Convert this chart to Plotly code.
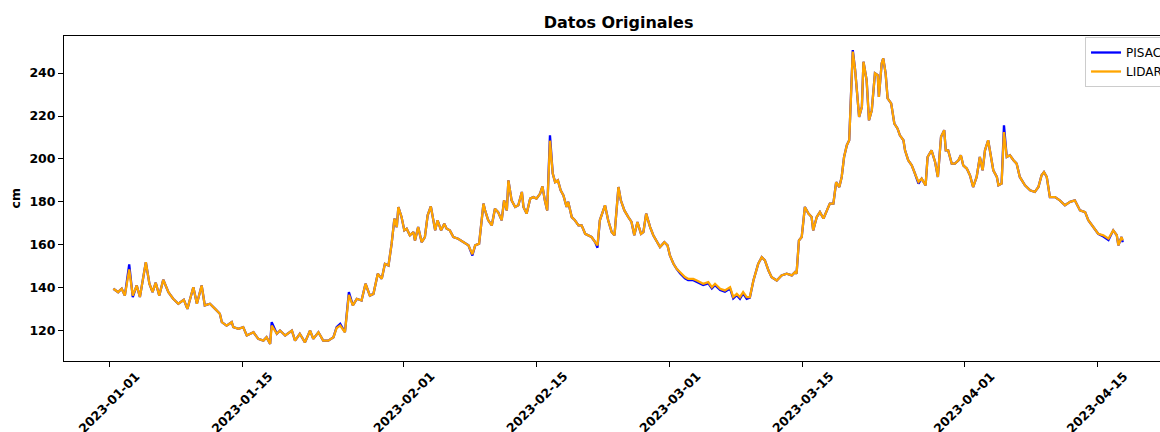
import plotly.graph_objects as go

# Sampled water-level readings (cm) from both sensors
fechas = [
    "2023-01-01 11:00", "2023-01-01 23:00", "2023-01-02 08:00", "2023-01-02 16:00", "2023-01-03 03:00",
    "2023-01-03 12:00", "2023-01-03 22:00", "2023-01-04 06:00", "2023-01-04 21:00", "2023-01-05 06:00",
    "2023-01-05 14:00", "2023-01-05 22:00", "2023-01-06 07:00", "2023-01-06 17:00", "2023-01-07 06:00",
    "2023-01-07 18:00", "2023-01-08 07:00", "2023-01-08 21:00", "2023-01-09 06:00", "2023-01-09 21:00",
    "2023-01-10 06:00", "2023-01-10 18:00", "2023-01-11 02:00", "2023-01-11 15:00", "2023-01-12 04:00",
    "2023-01-12 16:00", "2023-01-12 21:00", "2023-01-13 09:00", "2023-01-13 22:00", "2023-01-14 02:00",
    "2023-01-14 15:00", "2023-01-15 03:00", "2023-01-15 12:00", "2023-01-16 05:00", "2023-01-16 17:00",
    "2023-01-17 06:00", "2023-01-17 14:00", "2023-01-17 23:00", "2023-01-18 03:00", "2023-01-18 16:00",
    "2023-01-19 00:00", "2023-01-19 13:00", "2023-01-20 06:00", "2023-01-20 14:00", "2023-01-21 02:00",
    "2023-01-21 15:00", "2023-01-22 04:00", "2023-01-22 12:00", "2023-01-23 01:00", "2023-01-23 13:00",
    "2023-01-24 02:00", "2023-01-24 15:00", "2023-01-24 23:00", "2023-01-25 08:00", "2023-01-25 20:00",
    "2023-01-26 06:00", "2023-01-26 16:00", "2023-01-27 02:00", "2023-01-27 14:00", "2023-01-28 00:00",
    "2023-01-28 11:00", "2023-01-28 20:00", "2023-01-29 07:00", "2023-01-29 17:00", "2023-01-30 01:00",
    "2023-01-30 10:00", "2023-01-30 18:00", "2023-01-31 01:00", "2023-01-31 07:00", "2023-01-31 11:00",
    "2023-01-31 19:00", "2023-02-01 02:00", "2023-02-01 08:00", "2023-02-01 16:00", "2023-02-02 01:00",
    "2023-02-02 05:00", "2023-02-02 13:00", "2023-02-02 22:00", "2023-02-03 06:00", "2023-02-03 13:00",
    "2023-02-03 21:00", "2023-02-04 08:00", "2023-02-04 14:00", "2023-02-04 23:00", "2023-02-05 07:00",
    "2023-02-05 13:00", "2023-02-05 21:00", "2023-02-06 06:00", "2023-02-06 18:00", "2023-02-07 07:00",
    "2023-02-07 20:00", "2023-02-08 06:00", "2023-02-08 13:00", "2023-02-08 23:00", "2023-02-09 10:00",
    "2023-02-09 14:00", "2023-02-09 22:00", "2023-02-10 07:00", "2023-02-10 15:00", "2023-02-10 23:00",
    "2023-02-11 08:00", "2023-02-11 14:00", "2023-02-11 21:00", "2023-02-12 01:00", "2023-02-12 09:00",
    "2023-02-12 18:00", "2023-02-13 02:00", "2023-02-13 11:00", "2023-02-13 15:00", "2023-02-13 23:00",
    "2023-02-14 08:00", "2023-02-14 16:00", "2023-02-15 00:00", "2023-02-15 09:00", "2023-02-15 15:00",
    "2023-02-15 21:00", "2023-02-16 03:00", "2023-02-16 10:00", "2023-02-16 17:00", "2023-02-16 23:00",
    "2023-02-17 06:00", "2023-02-17 13:00", "2023-02-17 20:00", "2023-02-18 04:00", "2023-02-18 08:00",
    "2023-02-18 17:00", "2023-02-19 01:00", "2023-02-19 10:00", "2023-02-19 18:00", "2023-02-20 03:00",
    "2023-02-20 11:00", "2023-02-20 19:00", "2023-02-21 04:00", "2023-02-21 10:00", "2023-02-21 16:00",
    "2023-02-22 05:00", "2023-02-22 13:00", "2023-02-22 22:00", "2023-02-23 05:00", "2023-02-23 15:00",
    "2023-02-23 21:00", "2023-02-24 06:00", "2023-02-24 16:00", "2023-02-25 00:00", "2023-02-25 07:00",
    "2023-02-25 15:00", "2023-02-26 00:00", "2023-02-26 06:00", "2023-02-26 13:00", "2023-02-26 23:00",
    "2023-02-27 07:00", "2023-02-27 16:00", "2023-02-28 00:00", "2023-02-28 11:00", "2023-02-28 19:00",
    "2023-03-01 01:00", "2023-03-01 10:00", "2023-03-01 18:00", "2023-03-02 03:00", "2023-03-02 15:00",
    "2023-03-02 23:00", "2023-03-03 12:00", "2023-03-03 21:00", "2023-03-04 05:00", "2023-03-04 13:00",
    "2023-03-05 02:00", "2023-03-05 11:00", "2023-03-05 19:00", "2023-03-06 08:00", "2023-03-06 20:00",
    "2023-03-07 09:00", "2023-03-07 17:00", "2023-03-08 02:00", "2023-03-08 10:00", "2023-03-08 18:00",
    "2023-03-09 03:00", "2023-03-09 11:00", "2023-03-09 20:00", "2023-03-10 08:00", "2023-03-10 17:00",
    "2023-03-11 01:00", "2023-03-11 10:00", "2023-03-11 18:00", "2023-03-12 07:00", "2023-03-12 19:00",
    "2023-03-13 08:00", "2023-03-13 21:00", "2023-03-14 05:00", "2023-03-14 09:00", "2023-03-14 15:00",
    "2023-03-14 22:00", "2023-03-15 06:00", "2023-03-15 15:00", "2023-03-15 23:00", "2023-03-16 03:00",
    "2023-03-16 12:00", "2023-03-16 20:00", "2023-03-17 05:00", "2023-03-17 13:00", "2023-03-17 21:00",
    "2023-03-18 06:00", "2023-03-18 13:00", "2023-03-18 21:00", "2023-03-19 03:00", "2023-03-19 09:00",
    "2023-03-19 16:00", "2023-03-19 22:00", "2023-03-20 02:00", "2023-03-20 07:00", "2023-03-20 13:00",
    "2023-03-20 19:00", "2023-03-20 23:00", "2023-03-21 06:00", "2023-03-21 10:00", "2023-03-21 18:00",
    "2023-03-22 00:00", "2023-03-22 07:00", "2023-03-22 15:00", "2023-03-22 22:00", "2023-03-23 01:00",
    "2023-03-23 08:00", "2023-03-23 12:00", "2023-03-23 18:00", "2023-03-23 23:00", "2023-03-24 08:00",
    "2023-03-24 16:00", "2023-03-25 00:00", "2023-03-25 06:00", "2023-03-25 15:00", "2023-03-25 19:00",
    "2023-03-26 03:00", "2023-03-26 12:00", "2023-03-26 20:00", "2023-03-27 05:00", "2023-03-27 13:00",
    "2023-03-27 23:00", "2023-03-28 04:00", "2023-03-28 14:00", "2023-03-28 23:00", "2023-03-29 06:00",
    "2023-03-29 14:00", "2023-03-29 22:00", "2023-03-30 02:00", "2023-03-30 08:00", "2023-03-30 17:00",
    "2023-03-31 01:00", "2023-03-31 10:00", "2023-03-31 16:00", "2023-03-31 22:00", "2023-04-01 07:00",
    "2023-04-01 15:00", "2023-04-01 23:00", "2023-04-02 08:00", "2023-04-02 16:00", "2023-04-02 23:00",
    "2023-04-03 05:00", "2023-04-03 13:00", "2023-04-03 22:00", "2023-04-04 02:00", "2023-04-04 11:00",
    "2023-04-04 15:00", "2023-04-04 23:00", "2023-04-05 05:00", "2023-04-05 12:00", "2023-04-05 20:00",
    "2023-04-06 05:00", "2023-04-06 13:00", "2023-04-06 21:00", "2023-04-07 10:00", "2023-04-07 23:00",
    "2023-04-08 11:00", "2023-04-08 20:00", "2023-04-09 04:00", "2023-04-09 10:00", "2023-04-09 17:00",
    "2023-04-10 01:00", "2023-04-10 14:00", "2023-04-11 02:00", "2023-04-11 15:00", "2023-04-12 04:00",
    "2023-04-12 16:00", "2023-04-13 05:00", "2023-04-13 18:00", "2023-04-14 02:00", "2023-04-14 15:00",
    "2023-04-15 03:00", "2023-04-15 16:00", "2023-04-16 05:00", "2023-04-16 17:00", "2023-04-17 02:00",
    "2023-04-17 06:00", "2023-04-17 14:00", "2023-04-17 17:00",
]

pisac = [
    139.5, 137.9, 139.5, 136.3, 150.8, 135.6, 141.0, 135.6, 151.9, 141.8,
    137.9, 142.3, 136.3, 143.7, 137.9, 134.8, 132.5, 134.3, 130.1, 140.2,
    132.5, 141.0, 131.7, 132.5, 130.1, 127.8, 123.9, 122.3, 123.9, 121.6,
    120.8, 121.6, 117.7, 119.2, 116.1, 115.3, 116.9, 113.8, 123.9, 118.5,
    120.0, 117.7, 120.0, 115.3, 118.5, 114.5, 120.0, 116.1, 119.2, 115.3,
    115.3, 116.9, 121.6, 123.1, 119.2, 137.9, 131.7, 134.8, 134.0, 141.8,
    136.3, 137.1, 146.5, 144.1, 151.1, 150.3, 160.5, 172.2, 168.2, 177.6,
    172.9, 166.7, 167.5, 164.4, 165.9, 162.0, 168.2, 161.2, 163.6, 173.7,
    177.9, 166.7, 171.4, 166.7, 169.8, 167.5, 166.7, 163.6, 162.8, 161.2,
    159.7, 155.0, 159.7, 160.5, 179.2, 176.0, 171.4, 169.0, 176.8, 175.2,
    171.4, 180.7, 176.0, 190.0, 180.7, 177.6, 178.4, 184.6, 177.6, 174.5,
    181.5, 182.2, 181.5, 183.8, 187.2, 180.7, 176.0, 211.0, 193.2, 189.2,
    190.0, 185.4, 183.0, 177.6, 180.0, 172.9, 171.4, 169.0, 169.0, 165.1,
    164.4, 163.6, 161.2, 158.6, 171.4, 178.4, 171.4, 165.9, 164.4, 186.9,
    180.7, 176.0, 172.9, 170.6, 164.4, 170.6, 165.1, 165.9, 174.5, 168.2,
    164.4, 161.2, 158.9, 161.2, 159.7, 155.0, 151.1, 148.8, 146.6, 144.3,
    143.5, 143.5, 142.7, 142.0, 141.2, 142.0, 139.6, 141.2, 138.9, 138.1,
    139.6, 135.0, 136.5, 134.8, 137.3, 134.8, 135.3, 143.3, 151.1, 154.2,
    152.7, 148.0, 144.9, 143.3, 145.7, 146.5, 145.7, 147.2, 146.5, 162.0,
    163.6, 177.6, 174.5, 172.9, 166.7, 172.9, 175.2, 172.2, 176.0, 179.2,
    179.2, 189.2, 186.9, 191.6, 200.9, 206.4, 208.7, 224.3, 250.7, 241.4,
    228.9, 219.6, 224.3, 245.3, 236.7, 218.0, 222.7, 239.9, 239.1, 228.9,
    244.5, 246.9, 239.9, 228.2, 225.9, 216.5, 214.2, 211.0, 208.7, 204.0,
    199.4, 197.0, 193.2, 188.5, 190.8, 187.7, 200.9, 204.0, 198.6, 191.6,
    210.3, 213.4, 204.0, 204.0, 197.8, 197.8, 199.4, 201.7, 197.0, 195.5,
    192.4, 186.9, 191.6, 200.9, 194.7, 204.0, 208.7, 199.4, 194.7, 191.6,
    187.7, 188.5, 215.7, 200.9, 201.7, 199.4, 197.8, 191.6, 187.7, 185.4,
    184.6, 186.9, 192.4, 193.9, 191.6, 182.2, 182.2, 180.7, 178.4, 180.0,
    180.7, 176.0, 175.2, 171.4, 168.2, 165.1, 163.8, 162.2, 166.7, 164.4,
    159.7, 163.6, 161.2,
]

lidar = [
    139.5, 137.9, 139.5, 136.3, 148.5, 136.3, 141.0, 135.6, 151.9, 141.8,
    137.9, 142.3, 136.3, 143.7, 137.9, 134.8, 132.5, 134.3, 130.1, 140.2,
    132.5, 141.0, 131.7, 132.5, 130.1, 127.8, 123.9, 122.3, 123.9, 121.6,
    120.8, 121.6, 117.7, 119.2, 116.1, 115.3, 116.9, 113.8, 122.3, 118.5,
    120.0, 117.7, 120.0, 115.3, 118.5, 114.5, 120.0, 116.1, 119.2, 115.3,
    115.3, 116.9, 121.2, 122.3, 119.2, 136.6, 131.7, 134.8, 134.0, 141.8,
    136.3, 137.1, 146.5, 144.1, 151.1, 150.3, 160.5, 172.2, 168.2, 177.6,
    172.9, 166.7, 167.5, 164.4, 165.9, 162.0, 168.2, 161.2, 163.6, 173.7,
    177.9, 166.7, 171.4, 166.7, 169.8, 167.5, 166.7, 163.6, 162.8, 161.2,
    159.7, 155.6, 159.7, 160.5, 179.2, 176.0, 171.4, 169.0, 176.8, 175.2,
    171.4, 180.7, 176.0, 190.0, 180.7, 177.6, 178.4, 184.6, 177.6, 174.5,
    181.5, 182.2, 181.5, 183.8, 187.2, 180.7, 176.0, 208.5, 193.2, 189.2,
    190.0, 185.4, 183.0, 177.6, 180.0, 172.9, 171.4, 169.0, 169.0, 165.1,
    164.4, 163.6, 161.2, 159.7, 171.4, 178.4, 171.4, 165.9, 164.4, 186.9,
    180.7, 176.0, 172.9, 170.6, 164.4, 170.6, 165.1, 165.9, 174.5, 168.2,
    164.4, 161.2, 158.9, 161.2, 159.7, 155.0, 151.1, 148.8, 147.2, 144.9,
    144.1, 144.1, 143.3, 142.6, 141.8, 142.6, 140.2, 141.8, 139.5, 138.7,
    140.2, 135.6, 137.1, 135.6, 137.9, 135.6, 135.6, 143.3, 151.1, 154.2,
    152.7, 148.0, 144.9, 143.3, 145.7, 146.5, 145.7, 147.2, 146.5, 162.0,
    163.6, 177.6, 174.5, 172.9, 166.7, 172.9, 175.2, 172.2, 176.0, 179.2,
    179.2, 189.2, 186.9, 191.6, 200.9, 206.4, 208.7, 224.3, 250.0, 241.4,
    228.9, 219.6, 224.3, 245.3, 236.7, 218.0, 222.7, 239.9, 239.1, 228.9,
    244.5, 246.9, 239.9, 228.2, 225.9, 216.5, 214.2, 211.0, 208.7, 204.0,
    199.4, 197.0, 193.2, 189.3, 190.8, 187.7, 200.9, 204.0, 198.6, 191.6,
    210.3, 213.4, 204.0, 204.0, 197.8, 197.8, 199.4, 201.7, 197.0, 195.5,
    192.4, 186.9, 191.6, 200.9, 194.7, 204.0, 208.7, 199.4, 194.7, 191.6,
    187.7, 188.5, 212.5, 200.9, 201.7, 199.4, 197.8, 191.6, 187.7, 185.4,
    184.6, 186.9, 192.4, 193.9, 191.6, 182.2, 182.2, 180.7, 178.4, 180.0,
    180.7, 176.0, 175.2, 171.4, 168.2, 165.1, 164.4, 162.8, 166.7, 164.4,
    159.7, 163.6, 162.0,
]

tick_fechas = ["2023-01-01", "2023-01-15", "2023-02-01", "2023-02-15",
               "2023-03-01", "2023-03-15", "2023-04-01", "2023-04-15"]
y_ticks = [120, 140, 160, 180, 200, 220, 240]

FONT = "DejaVu Sans"
TICK_SIZE = 12.5

fig = go.Figure()
fig.add_trace(go.Scatter(x=fechas, y=pisac, mode="lines", name="PISAC",
                         line=dict(color="#0000ff", width=2.3)))
fig.add_trace(go.Scatter(x=fechas, y=lidar, mode="lines", name="LIDAR",
                         line=dict(color="#ffa500", width=2.3)))

# Rotated date labels centred under each tick
annotations = []
for f in tick_fechas:
    annotations.append(dict(
        x=f, xref="x", y=0, yref="paper", yshift=-5,
        text=f, showarrow=False, textangle=-45,
        xanchor="center", yanchor="top",
        font=dict(family=FONT, size=TICK_SIZE, color="black", weight="bold"),
    ))
annotations.append(dict(
    x=0, xref="paper", xshift=-49, y=0.5, yref="paper",
    text="cm", showarrow=False, textangle=-90,
    xanchor="center", yanchor="middle",
    font=dict(family=FONT, size=TICK_SIZE, color="black", weight="bold"),
))

fig.update_layout(
    width=1160, height=432,
    margin=dict(l=64, r=0, t=36, b=71, autoexpand=False),
    paper_bgcolor="white", plot_bgcolor="white",
    font=dict(family=FONT, color="black"),
    title=dict(text="Datos Originales", x=0.506, xref="paper", xanchor="center",
               y=1 - 22 / 432, yref="container", yanchor="middle",
               font=dict(family=FONT, size=16, color="black", weight="bold")),
    legend=dict(x=0.9316, y=0.9969, xanchor="left", yanchor="top",
                bgcolor="rgba(255,255,255,0.8)", bordercolor="#cccccc", borderwidth=1,
                font=dict(family=FONT, size=12, color="black")),
    annotations=annotations,
    showlegend=True,
)
fig.update_xaxes(
    type="date", range=["2022-12-27 06:15", "2023-04-21 15:10"],
    tickvals=tick_fechas, showticklabels=False,
    ticks="outside", ticklen=5, tickcolor="black", tickwidth=1,
    showline=True, linecolor="black", linewidth=1, mirror=True,
    showgrid=False, zeroline=False,
)
fig.update_yaxes(
    range=[105.8, 257.3], tickvals=y_ticks,
    ticks="outside", ticklen=5, tickcolor="black", tickwidth=1,
    tickfont=dict(family=FONT, size=TICK_SIZE, color="black", weight="bold"),
    showline=True, linecolor="black", linewidth=1, mirror=False,
    showgrid=False, zeroline=False,
)

fig.write_html("out.html")
